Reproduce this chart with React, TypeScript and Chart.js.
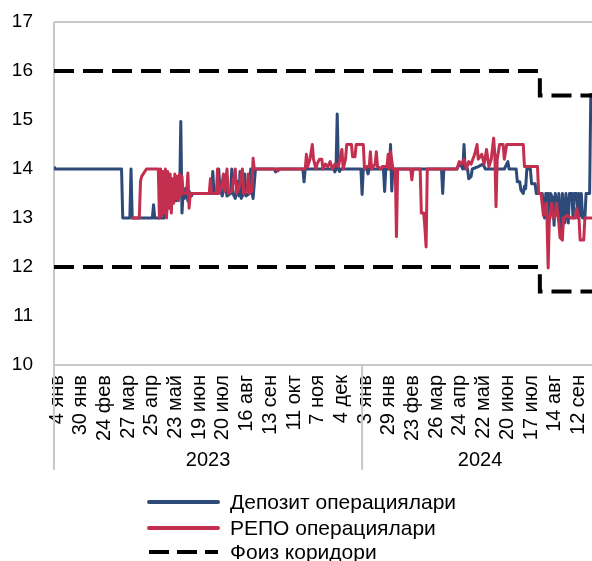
import React, { useEffect, useRef } from 'react';
import { Chart, registerables } from 'chart.js';

Chart.register(...registerables);

// ---- data ----
// x = business-day index starting at 4 Jan 2023; a tick label every 20 business days
const TICK_LABELS = ['4 янв', '30 янв', '24 фев', '27 мар', '25 апр', '23 май', '19 июн', '20 июл', '16 авг', '13 сен', '11 окт', '7 ноя', '4 дек', '3 янв', '29 янв', '23 фев', '26 мар', '24 апр', '22 май', '20 июн', '17 июл', '14 авг', '12 сен'];
const TICK_STEP = 20;
const VISIBLE_LAST_DAY = 454;
const GROUP_END_DAY = 459;
const YEAR_LABELS = ['2023', '2024'];
const YEAR_START = [0, 260];

const DEPOSIT_LABEL = 'Депозит операциялари';
const REPO_LABEL = 'РЕПО операциялари';
const CORRIDOR_LABEL = 'Фоиз коридори';

const DEPOSIT: [number, number][] = [
  [0, 14.05], [1, 14], [57, 14], [58, 13], [64, 13], [65, 14], [66, 13], [83, 13], [84, 13.27], [85, 13], [93, 13],
  [94, 13.35], [95, 13.1], [96, 13.6], [97, 13.3], [99, 13.75], [100, 13.4], [101, 13.7], [103, 13.35], [104, 13.6],
  [106, 13.45], [107, 14.97], [108, 13.1], [109, 13.55], [110, 13.4], [111, 13.6], [113, 13.35], [114, 13.55], [116, 13.45], [117, 13.5],
  [133, 13.5], [134, 13.95], [135, 13.5], [138, 13.5], [139, 14.0], [140, 13.6], [142, 13.45], [144, 13.7], [146, 13.45],
  [149, 13.5], [150, 14.0], [151, 13.5], [153, 13.4], [155, 13.75], [156, 13.45], [157, 13.95], [158, 13.4], [160, 13.5],
  [161, 13.9], [162, 13.45], [165, 13.5], [166, 14.0], [167, 13.55], [168, 13.4], [169, 13.7], [170, 14.0],
  [186, 14], [187, 13.94], [188, 14], [210, 14], [211, 13.74], [212, 14],
  [236, 14], [237, 13.94], [238, 14], [239, 15.12], [240, 14], [241, 13.95], [242, 14],
  [259, 14], [260, 13.48], [261, 14], [264, 14], [265, 13.9], [266, 14],
  [278, 14], [279, 13.54], [280, 14], [283, 14], [284, 14.5], [285, 13.55], [286, 14],
  [327, 14], [328, 13.5], [329, 14],
  [340, 14], [342, 14.1], [344, 14.05], [345, 14], [346, 14.5], [347, 14], [349, 14], [350, 13.8], [352, 13.85], [353, 14],
  [358, 14.05], [362, 14.1], [364, 14], [380, 14], [383, 14.15], [384, 14], [390, 14], [391, 13.74], [393, 13.74],
  [394, 13.57], [396, 13.5], [397, 13.65], [398, 13.6], [399, 14], [402, 14], [403, 13.7], [406, 13.7], [407, 13.5], [411, 13.5],
  [412, 13.5], [414, 13.0], [415, 13.5], [417, 13.5], [418, 12.95], [419, 13.5], [421, 13.4], [422, 12.85], [423, 13.5],
  [425, 13.05], [426, 13.5], [428, 12.65], [429, 13.5], [431, 12.9], [432, 13.5], [434, 12.9], [435, 13.5], [437, 13.5],
  [438, 13.0], [439, 13.5], [441, 13.5], [442, 13.0], [443, 13.5], [444, 13.05], [445, 13.5], [446, 13.0],
  [448, 13.0], [449, 13.5], [452, 13.5], [453, 15.55],
];

const REPO: [number, number][] = [
  [65, 13], [72, 13], [73, 13.75], [74, 13.85], [78, 14], [88, 14], [89, 13], [90, 14], [91, 13.05], [92, 13.95], [93, 13.1],
  [94, 14], [95, 13], [96, 13.95], [97, 13.2], [98, 13.9], [99, 13.1], [100, 13.8], [101, 13.3], [102, 13.9], [103, 13.4],
  [104, 13.85], [105, 13.35], [106, 13.9], [107, 13.45], [108, 13.85], [109, 13.5], [111, 13.5], [112, 13.55], [113, 13.92],
  [114, 13.2], [115, 13.5],
  [131, 13.5], [132, 13.8], [133, 13.5], [137, 13.5], [138, 14.0], [139, 13.5], [141, 13.6], [143, 13.9], [144, 13.55],
  [146, 14.0], [147, 13.5], [150, 13.55], [153, 14.0], [154, 13.5], [156, 13.6], [159, 14.0], [160, 13.5], [163, 13.55],
  [164, 13.9], [165, 13.5], [167, 13.55], [168, 14.22], [169, 14.0],
  [188, 14], [189, 13.96], [190, 14], [212, 14], [213, 14.3], [214, 14.05], [216, 14.2], [218, 14.5], [219, 14.2],
  [221, 14.0], [222, 14.1], [224, 14.2], [226, 14.2], [227, 14.0], [229, 14.1], [231, 14.05], [233, 14.15], [235, 14.0],
  [237, 14.1], [240, 14.05], [243, 14.4], [244, 14.0], [246, 14.2], [247, 14.5], [251, 14.5], [252, 14.25], [254, 14.25],
  [255, 14.5], [261, 14.5], [262, 14.0], [264, 14.05], [266, 14.05], [267, 14.35], [268, 14.0], [271, 14.1], [272, 14.35],
  [273, 14.05], [276, 14.0], [277, 14.05], [281, 14.05], [282, 14.3], [283, 14.0], [284, 14.35], [286, 14.0], [288, 14],
  [289, 12.62], [290, 14], [301, 14], [302, 13.78], [303, 14], [309, 14], [310, 13.1], [312, 13.1], [313, 12.8], [314, 12.41],
  [315, 14], [340, 14], [342, 14.15], [344, 14.1], [346, 14.2], [348, 14.0], [350, 14.15], [352, 14.1], [355, 14.3],
  [357, 14.5], [358, 14.2], [361, 14.3], [363, 14.1], [365, 14.4], [367, 14.05], [369, 14.2], [371, 14.63], [372, 14.3],
  [373, 13.23], [374, 14.2], [376, 14.5], [379, 14.5], [380, 14.2], [382, 14.5], [396, 14.5], [397, 14.05], [408, 14.05],
  [409, 13.5], [411, 13.5], [413, 13.05], [415, 13.3], [416, 13.0], [417, 11.98], [418, 13.0], [420, 13.3], [421, 13.0],
  [423, 13.05], [424, 13.3], [426, 12.9], [427, 12.6], [429, 12.55], [430, 13.0], [433, 13.05], [436, 13.0], [440, 13.0],
  [441, 13.2], [443, 13.0], [444, 12.55], [447, 12.55], [448, 13.0], [459, 13.0],
];

const CORRIDOR_UPPER: [number, number][] = [[0, 16], [410, 16], [410, 15.5], [459, 15.5]];
const CORRIDOR_LOWER: [number, number][] = [[0, 12], [410, 12], [410, 11.5], [459, 11.5]];

const Y_MIN = 10;
const Y_MAX = 17;

// ---- styles ----
const FONT = '"Liberation Sans", Arial, sans-serif';
const BLUE = '#2E4A78';
const RED = '#C3304F';
const FRAME = '#C8C8C8';
const CORRIDOR_DASH = [20, 9];

const toXY = (arr: [number, number][]) => arr.map(([x, y]) => ({ x, y }));

const framePlugin = {
  id: 'frame',
  beforeDatasetsDraw(chart: any) {
    const { ctx, chartArea } = chart;
    const xs = chart.scales.x;
    ctx.save();
    ctx.strokeStyle = FRAME;
    ctx.lineWidth = 2;
    ctx.beginPath();
    ctx.moveTo(chartArea.left, chartArea.top);
    ctx.lineTo(chartArea.right + 5, chartArea.top);
    ctx.moveTo(chartArea.left, chartArea.bottom);
    ctx.lineTo(chartArea.right + 5, chartArea.bottom);
    ctx.moveTo(chartArea.left, chartArea.top);
    ctx.lineTo(chartArea.left, chartArea.bottom + 105);
    for (let i = 1; i < YEAR_START.length; i++) {
      const px = xs.getPixelForValue(YEAR_START[i]);
      ctx.moveTo(px, chartArea.bottom);
      ctx.lineTo(px, chartArea.bottom + 105);
    }
    ctx.stroke();
    ctx.restore();
  },
  afterDraw(chart: any) {
    const { ctx, chartArea } = chart;
    const xs = chart.scales.x;
    ctx.save();
    // year group labels
    ctx.fillStyle = '#000';
    ctx.font = `20px ${FONT}`;
    ctx.textAlign = 'center';
    ctx.textBaseline = 'middle';
    for (let i = 0; i < YEAR_LABELS.length; i++) {
      const a = xs.getPixelForValue(YEAR_START[i]);
      const b = xs.getPixelForValue(i + 1 < YEAR_START.length ? YEAR_START[i + 1] : GROUP_END_DAY);
      ctx.fillText(YEAR_LABELS[i], (a + b) / 2, chartArea.bottom + 95);
    }
    // legend
    const items = chart.data.datasets.filter((d: any) => !d.hideInLegend);
    const rowY = [494, 520, 544];
    ctx.font = `21px ${FONT}`;
    ctx.textAlign = 'left';
    items.forEach((d: any, i: number) => {
      const y = rowY[i];
      ctx.beginPath();
      ctx.strokeStyle = d.borderColor;
      ctx.lineWidth = 4;
      ctx.setLineDash(d.borderDash && d.borderDash.length ? [20, 8] : []);
      ctx.lineCap = d.borderDash && d.borderDash.length ? 'butt' : 'round';
      ctx.moveTo(141, y);
      ctx.lineTo(210, y);
      ctx.stroke();
      ctx.setLineDash([]);
      ctx.fillStyle = '#000';
      ctx.fillText(d.label, 222, y + 1);
    });
    ctx.restore();
  },
};

export default function App() {
  const ref = useRef<HTMLCanvasElement | null>(null);

  useEffect(() => {
    const canvas = ref.current;
    if (!canvas) return;
    const chart = new Chart(canvas, {
      type: 'line',
      data: {
        datasets: [
          {
            label: DEPOSIT_LABEL,
            data: toXY(DEPOSIT),
            borderColor: BLUE,
            backgroundColor: BLUE,
            borderWidth: 3,
            pointRadius: 0,
            borderJoinStyle: 'round',
            order: 3,
          },
          {
            label: REPO_LABEL,
            data: toXY(REPO),
            borderColor: RED,
            backgroundColor: RED,
            borderWidth: 3,
            pointRadius: 0,
            borderJoinStyle: 'round',
            order: 2,
          },
          {
            label: CORRIDOR_LABEL,
            data: toXY(CORRIDOR_UPPER),
            borderColor: '#000',
            backgroundColor: '#000',
            borderWidth: 4,
            borderDash: CORRIDOR_DASH,
            pointRadius: 0,
            order: 1,
          },
          {
            label: CORRIDOR_LABEL,
            data: toXY(CORRIDOR_LOWER),
            borderColor: '#000',
            backgroundColor: '#000',
            borderWidth: 4,
            borderDash: CORRIDOR_DASH,
            pointRadius: 0,
            order: 1,
            hideInLegend: true,
          } as any,
        ],
      },
      options: {
        responsive: false,
        devicePixelRatio: 1,
        animation: false,
        layout: { padding: { left: 0, right: 0, top: 14, bottom: 93 } },
        plugins: { legend: { display: false }, tooltip: { enabled: false } },
        scales: {
          x: {
            type: 'linear',
            min: 0,
            max: VISIBLE_LAST_DAY,
            grid: { display: false, drawTicks: false },
            border: { display: false },
            ticks: {
              stepSize: TICK_STEP,
              includeBounds: false,
              autoSkip: false,
              minRotation: 90,
              maxRotation: 90,
              padding: 10,
              labelOffset: 3,
              color: '#000',
              font: { family: FONT, size: 20 },
              callback: (v: any) => {
                const i = Number(v) / TICK_STEP;
                return Number.isInteger(i) && TICK_LABELS[i] ? TICK_LABELS[i] : '';
              },
            },
            afterFit: (s: any) => {
              s.height = 120;
              s.paddingLeft = 0;
              s.paddingRight = 0;
            },
          },
          y: {
            min: Y_MIN,
            max: Y_MAX,
            grid: { display: false, drawTicks: false },
            border: { display: false },
            ticks: {
              stepSize: 1,
              padding: 21,
              color: '#000',
              font: { family: FONT, size: 19 },
            },
            afterFit: (s: any) => {
              s.width = 46;
              s.paddingTop = 0;
              s.paddingBottom = 0;
            },
          },
        },
      } as any,
      plugins: [framePlugin],
    });
    return () => chart.destroy();
  }, []);

  return (
    <div style={{ position: 'fixed', left: 0, top: 0, width: 592, height: 561, overflow: 'hidden', background: '#fff' }}>
      <canvas
        ref={ref}
        width={584}
        height={570}
        style={{ position: 'absolute', left: 8, top: 8, display: 'block', width: 584, height: 570 }}
      />
    </div>
  );
}
